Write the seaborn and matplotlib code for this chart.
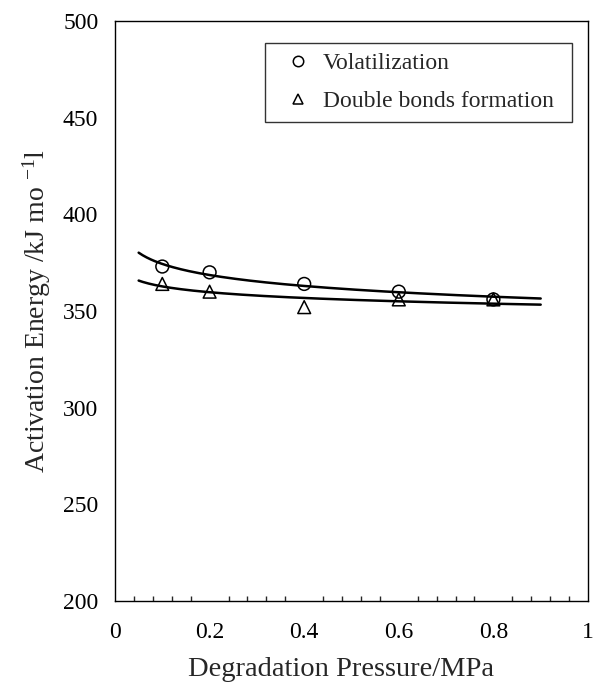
import numpy as np
import pandas as pd
import matplotlib
matplotlib.use("Agg")
import matplotlib.pyplot as plt
import seaborn as sns
from matplotlib.ticker import MultipleLocator
from matplotlib.lines import Line2D

# Data
pressure = [0.1, 0.2, 0.4, 0.6, 0.8]
volatilization = [373, 370, 364, 360, 356]
double_bonds = [364, 360, 352, 356, 356]
series_names = ["Volatilization", "Double bonds formation"]
x_ticks = [0, 0.2, 0.4, 0.6, 0.8, 1.0]
x_ticklabels = ['0', '0.2', '0.4', '0.6', '0.8', '1']

sns.set_style("white")
plt.rcParams['font.family'] = ['Liberation Serif', 'DejaVu Serif']
plt.rcParams['mathtext.fontset'] = 'custom'
plt.rcParams['mathtext.rm'] = 'Liberation Serif'
plt.rcParams['mathtext.it'] = 'Liberation Serif'

W = 473
fig = plt.figure(figsize=(5.93, 6.84), dpi=100)
ax = fig.add_axes([115 / 593, 83 / 684, W / 593, 580 / 684])

df = pd.DataFrame({"x": pressure * 2,
                   "y": volatilization + double_bonds,
                   "s": [series_names[0]] * 5 + [series_names[1]] * 5})

# power-law trend lines fitted to the data
xf = np.linspace(0.05, 0.9, 200)
for ys in (volatilization, double_bonds):
    b, lna = np.polyfit(np.log(pressure), np.log(ys), 1)
    sns.lineplot(x=xf, y=np.exp(lna) * xf ** b, ax=ax, color='black', lw=1.8)

sns.scatterplot(data=df, x="x", y="y", style="s", markers={series_names[0]: 'o', series_names[1]: '^'},
                s=85, facecolor='none', edgecolor='black', linewidth=1.1, ax=ax, legend=False, zorder=3)

ax.set_xlim(0, 1)
ax.set_ylim(200, 500)
ax.xaxis.set_minor_locator(MultipleLocator(0.04))
ax.yaxis.set_major_locator(MultipleLocator(50))
ax.set_xticks(x_ticks)
ax.set_xticklabels(x_ticklabels)
ax.tick_params(axis='both', which='major', direction='in', length=5, width=1, labelsize=17, colors='black')
ax.tick_params(axis='x', which='minor', direction='in', length=3.5, width=1, bottom=True)
ax.tick_params(axis='x', which='major', pad=15)
ax.tick_params(axis='y', which='major', pad=12)
for sp in ax.spines.values():
    sp.set_color('black')
    sp.set_linewidth(1.0)

ax.set_xlabel("Degradation Pressure/MPa", fontsize=20.5, labelpad=10)
ax.xaxis.label.set_x((341 - 115) / W)
ax.set_ylabel("Activation Energy /kJ mo $^{-1}$l", fontsize=20, labelpad=7)

handles = [Line2D([], [], ls='none', marker='o', mfc='none', mec='black', ms=7.5, mew=1.1),
           Line2D([], [], ls='none', marker='^', mfc='none', mec='black', ms=7.5, mew=1.1)]
h = 76 / 580
top = (601 - 43) / 580
leg = ax.legend(handles, series_names, loc='upper left',
                bbox_to_anchor=(150 / W, top - h, 307 / W, h), mode='expand',
                frameon=True, fancybox=False, edgecolor='black', fontsize=17,
                borderpad=0.42, labelspacing=0.68, handletextpad=0.05, handlelength=1.98,
                borderaxespad=0)
leg.get_frame().set_linewidth(1.0)

fig.savefig("out.png", dpi=100)
